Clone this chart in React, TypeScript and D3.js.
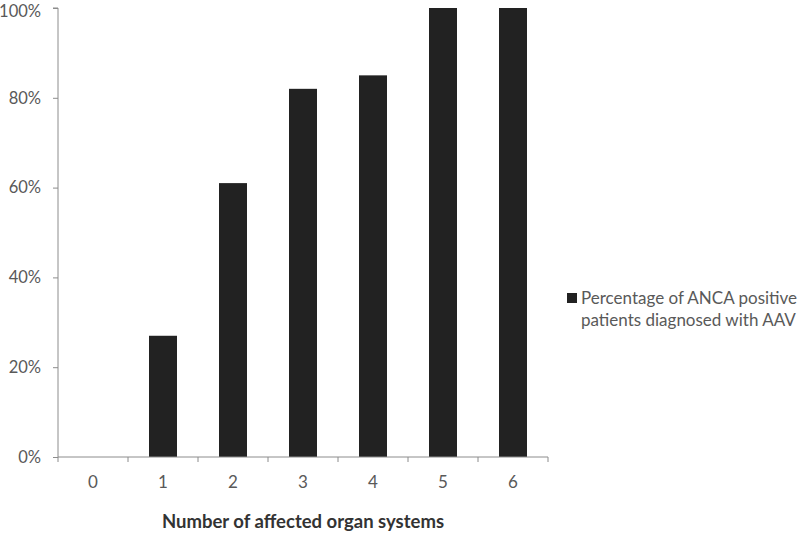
import React, { useEffect, useRef } from 'react';
import * as d3 from 'd3';

const categories = ['0', '1', '2', '3', '4', '5', '6'];
const values = [0, 0.27, 0.61, 0.82, 0.85, 1.0, 1.0];
const yTicks = [0, 0.2, 0.4, 0.6, 0.8, 1.0];
const legendLines = ['Percentage of ANCA positive', 'patients diagnosed with AAV'];
const xTitle = 'Number of affected organ systems';

const App = () => {
  const ref = useRef<SVGSVGElement>(null);

  useEffect(() => {
    if (!ref.current) return;
    const svg = d3.select(ref.current);
    svg.selectAll('*').remove();

    const font = 'Lato, "Open Sans", sans-serif';
    const textColor = '#595959';
    const axisColor = '#8c8c8c';

    const x = d3.scaleBand().domain(categories).range([58, 548]).paddingInner(0.6).paddingOuter(0.3);
    const y = d3.scaleLinear().domain([0, 1]).range([457, 8]);

    // bars
    svg.append('g')
      .selectAll('rect')
      .data(values)
      .join('rect')
      .attr('x', (_, i) => x(categories[i])!)
      .attr('y', d => y(d))
      .attr('width', x.bandwidth())
      .attr('height', d => y(0) - y(d))
      .attr('fill', '#222222');

    // y axis
    const yAxis = svg.append('g').attr('transform', 'translate(58,0)')
      .call(d3.axisLeft(y).tickValues(yTicks).tickSize(5).tickPadding(12).tickFormat(d3.format('.0%')));
    yAxis.select('.domain').attr('stroke', axisColor).attr('d', `M-5,${y(1)}H0V${y(0)}`);
    yAxis.selectAll('.tick line').attr('stroke', axisColor);
    yAxis.selectAll('.tick text')
      .attr('fill', textColor)
      .attr('dy', (d: any) => (d === 1 ? '0.5em' : '0.32em'))
      .style('font-family', font).style('font-size', '16.5px');

    // x axis
    const step = x.step();
    const edges = d3.range(categories.length + 1).map(i => 58 + i * step);
    const xg = svg.append('g');
    xg.append('line').attr('x1', 58).attr('x2', 548).attr('y1', y(0)).attr('y2', y(0)).attr('stroke', axisColor);
    xg.selectAll('.edge').data(edges).join('line')
      .attr('x1', d => d).attr('x2', d => d)
      .attr('y1', y(0)).attr('y2', y(0) + 5)
      .attr('stroke', axisColor);
    xg.selectAll('text').data(categories).join('text')
      .attr('x', d => x(d)! + x.bandwidth() / 2)
      .attr('y', y(0) + 31)
      .attr('text-anchor', 'middle')
      .attr('fill', textColor)
      .style('font-family', font)
      .style('font-size', '17px')
      .text(d => d);

    svg.append('text')
      .attr('x', 303)
      .attr('y', 528)
      .attr('text-anchor', 'middle')
      .attr('fill', '#333333')
      .style('font-family', font)
      .style('font-size', '18.5px')
      .style('font-weight', 'bold')
      .text(xTitle);

    // legend
    const lg = svg.append('g').attr('transform', 'translate(567,293)');
    lg.append('rect').attr('width', 10).attr('height', 10).attr('fill', '#222222');
    lg.selectAll('text').data(legendLines).join('text')
      .attr('x', 14)
      .attr('y', (_, i) => 11 + i * 22)
      .attr('fill', textColor)
      .style('font-family', font)
      .style('font-size', '17px')
      .text(d => d);
  }, []);

  return <svg ref={ref} width={800} height={534} style={{ position: 'absolute', left: 0, top: 0, background: '#fff' }} />;
};

export default App;
